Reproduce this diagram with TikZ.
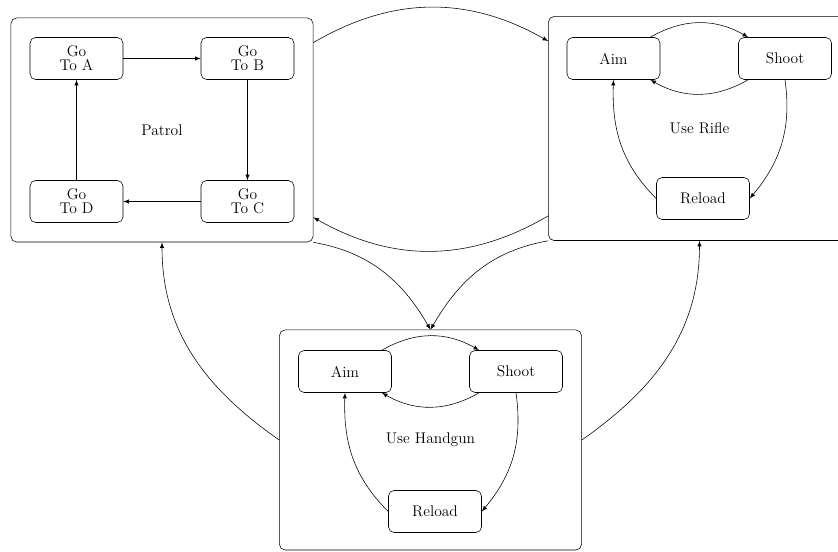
\documentclass[tikz,border=0pt]{standalone}
\usepackage{tikz}
\usetikzlibrary{arrows}

\begin{document}
\begin{tikzpicture}[x=0.025cm, y=0.025cm, >=latex, every node/.style={font=\fontsize{11}{10}\selectfont},
  machine/.style={draw, rounded corners=4pt, minimum width=7.55cm, minimum height=5.6cm},
  state/.style={draw, rounded corners=4pt, minimum width=2.325cm, minimum height=1.05cm, align=center}]
  \clip (0,0) rectangle (838,552);
  \node[machine] (patrol) at (162, 422) {Patrol};
  \node[machine] (rifle) at (699.5, 423.5) {Use Rifle};
  \node[machine, minimum height=5.5cm] (handgun) at (430.5, 112) {Use Handgun};

  \node[state] (goA) at (76.5, 493.5) {Go\\To A};
  \node[state] (goB) at (247.5, 493.5) {Go\\To B};
  \node[state] (goC) at (247.5, 350.5) {Go\\To C};
  \node[state] (goD) at (76.5, 350.5) {Go\\To D};
  \draw[->] (goA) -- (goB);
  \draw[->] (goB) -- (goC);
  \draw[->] (goC) -- (goD);
  \draw[->] (goD) -- (goA);

  \node[state] (aimR) at (613.5, 493.5) {Aim};
  \node[state] (shootR) at (785, 493.5) {Shoot};
  \node[state] (reloadR) at (703, 353.5) {Reload};
  \draw[->] (aimR.30) to[bend left=30] (shootR.150);
  \draw[->] (shootR.210) to[bend left=30] (aimR.330);
  \draw[->] (shootR.south) to[out=-82, in=50] (reloadR.east);
  \draw[->] (reloadR.west) to[out=135, in=-92] (aimR.south);

  \node[state] (aimH) at (345, 180.5) {Aim};
  \node[state] (shootH) at (516, 180.5) {Shoot};
  \node[state] (reloadH) at (435, 40.5) {Reload};
  \draw[->] (aimH.30) to[bend left=30] (shootH.150);
  \draw[->] (shootH.210) to[bend left=30] (aimH.330);
  \draw[->] (shootH.south) to[out=-82, in=50] (reloadH.east);
  \draw[->] (reloadH.west) to[out=135, in=-92] (aimH.south);

  \draw[->] (patrol.30) to[bend left=30] (rifle.150);
  \draw[->] (rifle.210) to[bend left=30] (patrol.330);
  \draw[->] (patrol.south east) to[out=-10, in=120] (handgun.north);
  \draw[->] (rifle.south west) to[out=190, in=60] (handgun.north);
  \draw[->] (handgun.west) to[out=145, in=-90] (patrol.south);
  \draw[->] (handgun.east) to[out=35, in=-90] (rifle.south);
\end{tikzpicture}
\end{document}
